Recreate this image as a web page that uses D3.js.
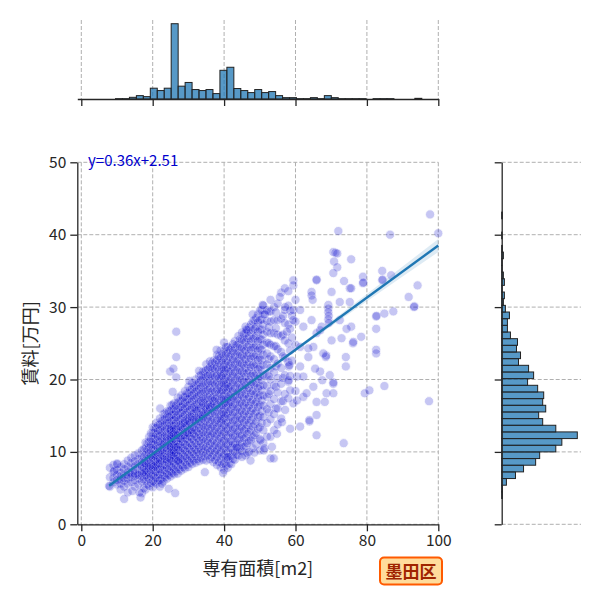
<!DOCTYPE html>
<html>
<head>
<meta charset="utf-8">
<script src="https://cdn.jsdelivr.net/npm/d3@7"></script>
<style>
body { margin: 0; background: #fff; }
text { font-family: "Noto Sans CJK JP", "Noto Sans", sans-serif; }
</style>
</head>
<body>
<svg id="chart" width="600" height="600"></svg>
<script>
// ticks
const areaTicks = [0, 20, 40, 60, 80, 100];
const rentTicks = [0, 10, 20, 30, 40, 50];

// marginal histogram of 専有面積 (bins start / width / counts)
const areaBinStart = 9.58;
const areaBinWidth = 1.95;
const areaCounts = [1, 1, 5, 10, 7, 32, 25, 32, 223, 38, 49, 28, 25, 28, 16, 85, 94, 31, 25, 19, 28,
    19, 22, 10, 4, 4, 1, 1, 4, 1, 10, 4, 1, 1, 1, 1, 0, 1, 1, 1, 0, 0, 0, 2];

// marginal histogram of 賃料
const rentBinStart = 3.56;
const rentBinWidth = 0.92;
const rentCounts = [2, 2, 14, 41, 65, 101, 113, 161, 179, 225, 161, 122, 110, 131, 122, 125, 107, 77, 95, 80,
    50, 56, 44, 47, 26, 17, 17, 23, 11, 5, 8, 1, 8, 5, 1, 1, 5, 2, 0, 1, 0, 0, 2];

// regression y=0.36x+2.51 and its confidence band half width
const slope = 0.36;
const intercept = 2.51;
const fitRange = [7.8, 100];
const ciX = [7.8, 20, 38, 60, 80, 100];
const ciHalf = [0.4, 0.18, 0.1, 0.22, 0.5, 0.9];

// scatter: area columns and the rents read at each column
const colArea = [8, 9, 10, 11, 12, 13, 14, 15, 16, 17, 17.5, 18, 18.5, 19, 19.5, 20, 20.5, 21, 21.5, 22, 22.5,
    23, 23.5, 24, 24.5, 25, 25.5, 26, 26.5, 27, 27.5, 28, 28.5, 29, 29.5, 30, 30.5, 31, 31.5, 32, 32.5,
    33, 33.5, 34, 34.5, 35, 35.5, 36, 36.5, 37, 37.5, 38, 38.5, 39, 39.5, 40, 40.5, 41, 41.5, 42, 42.5,
    43, 43.5, 44, 44.5, 45, 45.5, 46, 46.5, 47, 47.5, 48, 48.5, 49, 49.5, 50, 50.5, 51, 52, 52.5, 53,
    54, 54.5, 55, 56, 56.5, 57, 58, 58.5, 59, 60];
const colRent = [
    [5.2, 6.5, 7.8],
    [5.8, 7.2, 8.2, 6.4],
    [5.5, 6.8, 8.4, 7.5, 6.1],
    [4.8, 6.2, 7.1, 7.9, 6.6, 5.6],
    [5.2, 6.0, 6.9, 7.6, 8.3, 6.4],
    [4.4, 5.6, 6.3, 7.2, 7.9, 8.8, 6.8],
    [5.8, 6.5, 7.1, 7.8, 8.5, 9.2, 6.9],
    [5.2, 6.1, 6.7, 7.4, 8.0, 8.7, 9.5, 7.0],
    [5.5, 6.3, 7.0, 7.6, 8.3, 9.0, 9.8, 6.8],
    [4.3, 5.9, 6.6, 7.3, 7.9, 8.6, 9.3, 10.2, 7.0, 8.0],
    [5.0, 6.2, 7.1, 7.8, 8.5, 9.3, 10.4],
    [4.8, 6.0, 6.8, 7.5, 8.1, 8.8, 9.6, 10.5, 11.3, 7.2, 8.4],
    [5.5, 6.5, 7.3, 8.0, 8.7, 9.5, 10.3, 11.2],
    [5.3, 6.3, 7.0, 7.7, 8.4, 9.1, 9.8, 10.6, 11.4, 12.1, 8.0],
    [5.7, 6.6, 7.4, 8.1, 8.8, 9.5, 10.2, 11.0, 11.8, 12.6],
    [5.1, 6.0, 6.8, 7.5, 8.2, 8.9, 9.6, 10.3, 11.0, 11.8, 12.6, 13.4, 7.9, 9.2],
    [5.8, 6.6, 7.4, 8.1, 8.8, 9.5, 10.2, 11.0, 11.8, 12.6, 13.3],
    [5.6, 6.4, 7.2, 7.9, 8.6, 9.3, 10.0, 10.8, 11.6, 12.4, 13.3, 14.0, 8.2, 9.6],
    [6.0, 6.8, 7.6, 8.3, 9.0, 9.8, 10.5, 11.3, 12.1, 12.9, 13.7],
    [5.2, 6.1, 6.9, 7.6, 8.4, 9.1, 9.9, 10.6, 11.4, 12.2, 13.0, 13.8, 14.6, 8.8, 10.2],
    [6.3, 7.2, 8.0, 8.8, 9.6, 10.3, 11.1, 11.9, 12.7, 13.5, 14.3],
    [5.9, 6.7, 7.5, 8.2, 9.0, 9.8, 10.5, 11.3, 12.0, 12.8, 13.6, 14.4, 15.2, 9.4, 11.0],
    [6.5, 7.4, 8.2, 9.0, 9.8, 10.6, 11.4, 12.2, 13.0, 13.8, 14.6, 15.3],
    [6.3, 7.0, 7.8, 8.6, 9.3, 10.1, 10.9, 11.6, 12.4, 13.2, 14.0, 14.8, 15.6, 8.9, 10.5, 12.0],
    [6.8, 7.6, 8.4, 9.2, 10.0, 10.8, 11.6, 12.4, 13.2, 14.0, 14.8, 15.6],
    [6.6, 7.3, 8.0, 8.7, 9.4, 10.1, 10.8, 11.5, 12.2, 12.9, 13.6, 14.3, 15.0, 15.7, 16.4, 9.0, 10.4, 11.1, 11.8, 12.5, 13.2, 9.7, 10.7, 12.0, 13.0],
    [7.1, 7.9, 8.7, 9.5, 10.3, 11.1, 11.9, 12.7, 13.5, 14.3, 15.1, 15.9, 16.5, 10.0, 12.3],
    [6.9, 7.6, 8.4, 9.1, 9.9, 10.6, 11.4, 12.1, 12.9, 13.6, 14.4, 15.1, 15.9, 16.7, 10.2, 11.8, 13.2, 9.5, 11.0, 12.5],
    [7.3, 8.1, 9.0, 9.8, 10.6, 11.5, 12.3, 13.1, 14.0, 14.8, 15.6, 16.4],
    [7.0, 7.9, 8.7, 9.5, 10.3, 11.1, 11.9, 12.7, 13.5, 14.3, 15.1, 15.9, 16.8, 17.5, 10.7, 12.3],
    [7.6, 8.5, 9.3, 10.2, 11.0, 11.9, 12.7, 13.6, 14.4, 15.3, 16.1, 17.0],
    [7.4, 8.2, 9.0, 9.8, 10.6, 11.4, 12.2, 13.0, 13.8, 14.6, 15.4, 16.2, 17.0, 17.8, 11.8, 13.4],
    [7.9, 8.8, 9.6, 10.5, 11.4, 12.3, 13.1, 14.0, 14.9, 15.8, 16.6, 17.5],
    [7.7, 8.6, 9.4, 10.2, 11.0, 11.9, 12.7, 13.5, 14.3, 15.1, 16.0, 16.8, 17.6, 18.4, 12.3, 14.0],
    [8.2, 9.1, 10.0, 10.9, 11.8, 12.7, 13.6, 14.5, 15.4, 16.3, 17.2, 18.1],
    [7.9, 8.8, 9.6, 10.5, 11.3, 12.2, 13.0, 13.9, 14.7, 15.6, 16.4, 17.3, 18.1, 19.0, 12.6, 14.3],
    [8.5, 9.4, 10.3, 11.2, 12.1, 13.1, 14.0, 14.9, 15.8, 16.7, 17.7, 18.6],
    [8.3, 9.1, 10.0, 10.9, 11.8, 12.6, 13.5, 14.4, 15.2, 16.1, 17.0, 17.8, 18.7, 19.5, 13.0, 14.8],
    [8.8, 9.7, 10.6, 11.6, 12.5, 13.4, 14.4, 15.3, 16.2, 17.2, 18.1, 19.0],
    [8.5, 9.4, 10.3, 11.2, 12.1, 13.0, 13.9, 14.7, 15.6, 16.5, 17.4, 18.3, 19.2, 20.0, 14.2, 15.9],
    [9.0, 10.0, 10.9, 11.9, 12.8, 13.8, 14.7, 15.7, 16.6, 17.6, 18.5, 19.5],
    [8.7, 9.7, 10.6, 11.5, 12.4, 13.3, 14.2, 15.1, 16.0, 16.9, 17.8, 18.7, 19.6, 20.5, 21.2, 14.6],
    [9.2, 10.2, 11.2, 12.1, 13.1, 14.1, 15.1, 16.0, 17.0, 18.0, 18.9, 19.9, 20.6],
    [8.9, 9.9, 10.8, 11.8, 12.7, 13.6, 14.6, 15.5, 16.4, 17.4, 18.3, 19.2, 20.2, 21.1, 15.0, 16.8],
    [9.4, 10.4, 11.4, 12.4, 13.4, 14.3, 15.3, 16.3, 17.3, 18.3, 19.3, 20.3, 21.1],
    [8.8, 9.8, 10.7, 11.7, 12.7, 13.6, 14.6, 15.5, 16.5, 17.4, 18.4, 19.3, 20.3, 21.3, 22.1, 15.9],
    [9.5, 10.5, 11.5, 12.5, 13.5, 14.5, 15.5, 16.5, 17.5, 18.5, 19.5, 20.5, 21.4],
    [9.0, 10.0, 11.0, 12.0, 12.9, 13.9, 14.9, 15.9, 16.8, 17.8, 18.8, 19.8, 20.7, 21.7, 22.5, 16.2],
    [9.3, 10.3, 11.3, 12.4, 13.4, 14.4, 15.4, 16.4, 17.4, 18.4, 19.5, 20.5, 21.5, 22.2],
    [8.6, 9.6, 10.6, 11.6, 12.6, 13.6, 14.6, 15.6, 16.6, 17.6, 18.6, 19.6, 20.6, 21.6, 22.6, 17.0],
    [8.9, 10.0, 11.0, 12.1, 13.1, 14.1, 15.2, 16.2, 17.3, 18.3, 19.3, 20.4, 21.4, 22.4],
    [8.2, 9.3, 10.3, 11.3, 12.4, 13.4, 14.4, 15.5, 16.5, 17.5, 18.6, 19.6, 20.6, 21.7, 22.7, 23.4],
    [8.6, 9.7, 10.7, 11.8, 12.8, 13.9, 15.0, 16.0, 17.1, 18.1, 19.2, 20.2, 21.3, 22.3, 23.2],
    [7.9, 9.0, 10.0, 11.0, 12.0, 13.0, 14.0, 15.0, 16.0, 17.0, 18.0, 19.0, 20.0, 21.0, 22.0, 23.0, 24.0, 14.5, 16.5, 18.5, 20.5],
    [8.3, 9.4, 10.5, 11.5, 12.5, 13.5, 14.5, 15.5, 16.5, 17.5, 18.5, 19.5, 20.5, 21.5, 22.5, 23.5],
    [7.5, 8.5, 9.6, 10.6, 11.6, 12.7, 13.7, 14.7, 15.8, 16.8, 17.8, 18.9, 19.9, 20.9, 22.0, 23.0, 24.0, 25.1, 15.2, 17.3, 19.4, 21.4],
    [8.1, 9.1, 10.1, 11.1, 12.2, 13.2, 14.2, 15.3, 16.3, 17.3, 18.4, 19.4, 20.4, 21.5, 22.5, 23.5, 24.5],
    [7.8, 8.9, 9.9, 11.0, 12.0, 13.1, 14.1, 15.2, 16.2, 17.3, 18.3, 19.4, 20.4, 21.5, 22.5, 23.6, 24.5, 16.7, 18.8],
    [8.4, 9.4, 10.5, 11.5, 12.6, 13.6, 14.7, 15.7, 16.8, 17.8, 18.9, 19.9, 21.0, 22.0, 23.1, 24.1],
    [8.3, 9.4, 10.5, 11.5, 12.6, 13.7, 14.8, 15.9, 16.9, 18.0, 19.1, 20.2, 21.2, 22.3, 23.4, 24.4, 17.5],
    [9.0, 10.0, 11.1, 12.2, 13.2, 14.3, 15.4, 16.4, 17.5, 18.5, 19.6, 20.7, 21.7, 22.8, 23.9, 24.9],
    [8.9, 10.0, 11.1, 12.2, 13.3, 14.4, 15.5, 16.6, 17.7, 18.8, 19.9, 21.0, 22.1, 23.2, 24.3, 25.3],
    [9.6, 10.7, 11.8, 12.9, 14.0, 15.0, 16.1, 17.2, 18.3, 19.4, 20.5, 21.6, 22.6, 23.7, 24.8],
    [9.5, 10.6, 11.7, 12.8, 13.9, 15.0, 16.1, 17.2, 18.3, 19.4, 20.5, 21.6, 22.7, 23.8, 24.9, 26.0],
    [10.2, 11.3, 12.4, 13.5, 14.6, 15.7, 16.8, 17.9, 19.0, 20.1, 21.2, 22.3, 23.4, 24.5, 25.6],
    [10.1, 11.2, 12.3, 13.4, 14.5, 15.6, 16.7, 17.8, 18.9, 20.0, 21.1, 22.2, 23.3, 24.4, 25.5, 26.5],
    [10.7, 11.9, 13.0, 14.1, 15.2, 16.4, 17.5, 18.6, 19.7, 20.9, 22.0, 23.1, 24.2, 25.4, 26.3],
    [9.5, 10.8, 12.0, 13.2, 14.4, 15.6, 16.8, 18.0, 19.2, 20.4, 21.6, 22.8, 24.0, 25.2, 26.4, 27.3],
    [11.2, 12.5, 13.7, 14.9, 16.1, 17.3, 18.5, 19.7, 20.9, 22.1, 23.3, 24.5, 25.7, 26.8],
    [10.0, 11.5, 12.8, 14.0, 15.2, 16.4, 17.6, 18.8, 20.0, 21.2, 22.4, 23.6, 24.8, 26.0, 27.2],
    [11.6, 13.0, 14.4, 15.7, 16.9, 18.1, 19.3, 20.5, 21.7, 22.9, 24.1, 25.3, 26.5, 27.6],
    [10.5, 12.0, 13.5, 14.8, 16.0, 17.2, 18.4, 19.6, 20.8, 22.0, 23.2, 24.4, 25.6, 26.8, 28.0],
    [12.3, 13.8, 15.3, 16.6, 17.9, 19.2, 20.5, 21.8, 23.1, 24.4, 25.7, 27.0, 28.2],
    [11.0, 12.6, 14.2, 15.6, 16.9, 18.2, 19.5, 20.8, 22.1, 23.4, 24.7, 26.0, 27.3, 28.5],
    [13.2, 14.8, 16.2, 17.5, 18.8, 20.1, 21.4, 22.7, 24.0, 25.3, 26.6, 27.9, 29.0],
    [10.2, 11.8, 13.4, 15.0, 16.5, 17.8, 19.1, 20.4, 21.7, 23.0, 24.3, 25.6, 26.9, 28.2, 29.5],
    [14.0, 15.6, 17.1, 18.5, 19.9, 21.3, 22.7, 24.1, 25.5, 26.9, 28.3, 29.6],
    [11.2, 13.0, 14.8, 16.4, 17.8, 19.2, 20.6, 22.0, 23.4, 24.8, 26.2, 27.6, 29.0, 30.2],
    [12.1, 14.0, 15.9, 17.6, 19.1, 20.6, 22.1, 23.6, 25.1, 26.6, 28.1, 29.6],
    [15.5, 18.0, 20.5, 22.8, 25.0, 27.2, 29.4],
    [9.1, 12.1, 14.5, 16.6, 18.4, 20.0, 21.6, 23.2, 24.8, 26.4, 28.0, 29.4],
    [13.0, 15.2, 17.3, 19.2, 21.0, 22.8, 24.6, 26.4, 28.2, 30.0],
    [16.0, 19.0, 21.8, 24.6, 27.1, 29.3],
    [13.8, 16.0, 18.2, 20.2, 22.2, 24.2, 26.2, 28.2, 30.5],
    [14.6, 17.0, 19.4, 21.6, 23.8, 26.0, 28.4],
    [17.0, 20.2, 23.2, 26.2, 28.8],
    [18.0, 20.6, 23.0, 25.4, 27.8, 29.6],
    [17.4, 22.4, 25.0, 27.6, 30.2],
    [20.5, 24.0, 27.0, 29.5],
    [22.6, 25.8, 28.8],
    [18.4, 24.8, 28.0, 31.0]
];

// isolated points away from the main cloud
const extraPoints = [
    [7.8, 5.3], [9.2, 7.4], [10.1, 8.3], [12, 3.5], [14.3, 4.6], [16.6, 3.7], [16.3, 4.4], [22.6, 5.6],
    [24.5, 4.9], [26.3, 4.3], [27.2, 8.8], [34.6, 7.2], [39.7, 7.1], [22.1, 16], [25.6, 18.3],
    [26.6, 26.6], [26.6, 23.1], [24.9, 21.1], [25.8, 21.5], [26.6, 20.3], [30.3, 19.8], [37.9, 24.1],
    [46.2, 26.9], [48, 29], [50.8, 30.3], [51.4, 29], [41, 9.3], [43.5, 10.6], [45, 9.3], [46.5, 9.8],
    [47.4, 8.8], [48.5, 9.9], [50.2, 11.6], [51.1, 10.2], [51.3, 10.5], [53.4, 10.7], [53.9, 9.1],
    [54.8, 12.5], [56.2, 14.1], [58.5, 13.2], [57.1, 15.8], [59.4, 16.7], [60.4, 17.1], [61.3, 13.5],
    [63.9, 14.2], [63.9, 14.4], [65.9, 15.1], [65.9, 12.3], [62.2, 17.6], [63.1, 18.1], [65.9, 16.9],
    [68.2, 16.9], [58.5, 18.5], [58, 19.7], [58.1, 19.9], [65, 19], [68.7, 18.1], [70.6, 18.1],
    [70.6, 19.4], [70.6, 19.6], [69.6, 20.6], [66.9, 21.1], [67.5, 19.9], [60.4, 20.4], [62.2, 20.4],
    [61.3, 21.8], [58.1, 21.8], [58.3, 22], [65.5, 21.5], [63.6, 23.1], [68.5, 23.1], [68.6, 23.3],
    [67.8, 23.6], [65, 24.5], [61.3, 24.5], [63.6, 24.3], [70.1, 25.4], [72.9, 25.7], [57.6, 26.6],
    [65.9, 26.4], [66.9, 26.8], [67.3, 27.3], [62.2, 27.3], [59.4, 28.2], [64.5, 28.2], [72.4, 28.2],
    [75.6, 27.3], [59.4, 29.6], [61.3, 29.6], [57.1, 30], [73.5, 11.2], [74.3, 27], [78.4, 25.9],
    [76.1, 25], [76.2, 25.2], [74.1, 23.1], [74.1, 21.8], [82.6, 24.1], [82.6, 23.6], [79.4, 18.1],
    [80.7, 18.5], [84.9, 19.1], [97.4, 17], [72, 40.5], [86.5, 40], [100, 40.2], [97.7, 42.8],
    [70.6, 37.6], [71.2, 37.5], [71.7, 37.4], [75.6, 36.6], [70.8, 36.3], [71.7, 35.5], [70.6, 34.7],
    [78.9, 34.2], [78.9, 33.3], [79, 33.4], [84.3, 35], [84.3, 33.7], [84.4, 33.8], [86.8, 34.4],
    [65.9, 33.7], [65.9, 33.8], [73.6, 33.6], [75.2, 32.6], [75.6, 32.6], [94.2, 33], [91.7, 31.4],
    [64.5, 32.1], [64.5, 31.6], [64.8, 31], [59.4, 33.7], [59.4, 33], [56, 32], [57, 32.6], [58, 32.2],
    [69.2, 30.3], [69.2, 29.8], [69.2, 29.3], [69.3, 28.8], [69.2, 28.3], [69.3, 27.8], [70.1, 32.1],
    [72.4, 30.7], [75.2, 30.7], [82.6, 28.7], [82.7, 28.8], [82.6, 27], [84.9, 29.1], [87.4, 29.4],
    [93.2, 30], [93.3, 30.1], [55.6, 31.4], [53, 31]
];

const points = colArea.flatMap((x, i) => colRent[i].map(y => [x, y])).concat(extraPoints);

const svg = d3.select("#chart");
const ink = "#262626";
const gridColor = "#b0b0b0";

// main axes box
const main = {left: 77.3, right: 438.3, top: 162.3, bottom: 524.3};
const escalaX = d3.scaleLinear().domain([-1.12, 100]).range([main.left, main.right]);
const escalaY = d3.scaleLinear().domain([0, 50]).range([main.bottom, main.top]);

// marginal axes
const margTop = {top: 20, bottom: 99};
const margRight = {left: 501.7, right: 581};
const escalaHistX = d3.scaleLinear().domain([0, 234]).range([margTop.bottom, margTop.top]);
const escalaHistY = d3.scaleLinear().domain([0, 236]).range([margRight.left, margRight.right]);

function gridLine(g) {
    g.attr("stroke", gridColor).attr("stroke-width", 1).attr("stroke-dasharray", "4,2");
}

// grid: main
svg.append("g").selectAll("line").data(areaTicks).join("line")
    .attr("x1", d => escalaX(d)).attr("x2", d => escalaX(d))
    .attr("y1", main.top).attr("y2", main.bottom)
    .call(gridLine);
svg.append("g").selectAll("line").data(rentTicks).join("line")
    .attr("x1", main.left).attr("x2", main.right)
    .attr("y1", d => escalaY(d)).attr("y2", d => escalaY(d))
    .call(gridLine);
// grid: marginals
svg.append("g").selectAll("line").data(areaTicks).join("line")
    .attr("x1", d => escalaX(d)).attr("x2", d => escalaX(d))
    .attr("y1", margTop.top).attr("y2", margTop.bottom)
    .call(gridLine);
svg.append("g").selectAll("line").data(rentTicks).join("line")
    .attr("x1", margRight.left).attr("x2", margRight.right)
    .attr("y1", d => escalaY(d)).attr("y2", d => escalaY(d))
    .call(gridLine);

// scatter
svg.append("g").selectAll("circle").data(points).join("circle")
    .attr("cx", d => escalaX(d[0]))
    .attr("cy", d => escalaY(d[1]))
    .attr("r", 4.6)
    .attr("fill", "#0000cd")
    .attr("stroke", "#fff")
    .attr("stroke-width", 0.8)
    .attr("opacity", 0.22);

// confidence band + regression line
const bandX = d3.scaleLinear().domain(ciX).range(ciHalf);
const band = d3.area()
    .x(d => escalaX(d))
    .y0(d => escalaY(slope * d + intercept - bandX(d)))
    .y1(d => escalaY(slope * d + intercept + bandX(d)));
svg.append("path")
    .datum(ciX)
    .attr("d", band.curve(d3.curveMonotoneX))
    .attr("fill", "#1f77b4")
    .attr("fill-opacity", 0.15);
svg.append("line")
    .attr("x1", escalaX(fitRange[0])).attr("y1", escalaY(slope * fitRange[0] + intercept))
    .attr("x2", escalaX(fitRange[1])).attr("y2", escalaY(slope * fitRange[1] + intercept))
    .attr("stroke", "#1f77b4")
    .attr("stroke-width", 2.4);

// top histogram
svg.append("g").selectAll("rect").data(areaCounts).join("rect")
    .attr("x", (d, i) => escalaX(areaBinStart + i * areaBinWidth))
    .attr("width", (d, i) => escalaX(areaBinStart + (i + 1) * areaBinWidth) - escalaX(areaBinStart + i * areaBinWidth))
    .attr("y", d => escalaHistX(d))
    .attr("height", d => escalaHistX(0) - escalaHistX(d))
    .attr("fill", "#1f77b4").attr("fill-opacity", 0.75)
    .attr("stroke", "#222").attr("stroke-width", 1);

// right histogram
svg.append("g").selectAll("rect").data(rentCounts).join("rect")
    .attr("y", (d, i) => escalaY(rentBinStart + (i + 1) * rentBinWidth))
    .attr("height", (d, i) => escalaY(rentBinStart + i * rentBinWidth) - escalaY(rentBinStart + (i + 1) * rentBinWidth))
    .attr("x", escalaHistY(0))
    .attr("width", d => escalaHistY(d) - escalaHistY(0))
    .attr("fill", "#1f77b4").attr("fill-opacity", 0.75)
    .attr("stroke", "#222").attr("stroke-width", 1);

function styleAxis(g) {
    g.select(".domain").attr("stroke", ink).attr("stroke-width", 1.3);
    g.selectAll(".tick line").attr("stroke", ink).attr("stroke-width", 1.3);
    g.selectAll(".tick text").attr("fill", ink).attr("font-size", 15.5)
        .attr("font-family", "'Noto Sans CJK JP', sans-serif");
}

// axes
svg.append("g")
    .attr("transform", `translate(0, ${main.bottom})`)
    .call(d3.axisBottom(escalaX).tickValues(areaTicks).tickSize(7).tickSizeOuter(0).tickPadding(4))
    .call(styleAxis);
svg.append("g")
    .attr("transform", `translate(${main.left}, 0)`)
    .call(d3.axisLeft(escalaY).tickValues(rentTicks).tickSize(7).tickSizeOuter(0).tickPadding(4))
    .call(styleAxis);
svg.append("g")
    .attr("transform", `translate(0, ${margTop.bottom})`)
    .call(d3.axisBottom(escalaX).tickValues(areaTicks).tickSize(7).tickSizeOuter(0).tickFormat(""))
    .call(styleAxis);
svg.append("g")
    .attr("transform", `translate(${margRight.left}, 0)`)
    .call(d3.axisLeft(escalaY).tickValues(rentTicks).tickSize(7).tickSizeOuter(0).tickFormat(""))
    .call(styleAxis);

// labels
svg.append("text")
    .text("専有面積[m2]")
    .attr("x", (main.left + main.right) / 2)
    .attr("y", 575)
    .attr("text-anchor", "middle")
    .attr("font-size", 18)
    .attr("fill", ink);
svg.append("text")
    .text("賃料[万円]")
    .attr("transform", `translate(37, ${(main.top + main.bottom) / 2}) rotate(-90)`)
    .attr("text-anchor", "middle")
    .attr("font-size", 18)
    .attr("fill", ink);
svg.append("text")
    .text("y=0.36x+2.51")
    .attr("x", 88)
    .attr("y", 166)
    .attr("font-size", 15)
    .attr("fill", "mediumblue");

// ward badge
svg.append("rect")
    .attr("x", 380).attr("y", 557.5)
    .attr("width", 62).attr("height", 27)
    .attr("rx", 4)
    .attr("fill", "#ffdc9c")
    .attr("stroke", "#ff5a00")
    .attr("stroke-width", 2);
svg.append("text")
    .text("墨田区")
    .attr("x", 411)
    .attr("y", 577.5)
    .attr("text-anchor", "middle")
    .attr("font-size", 17)
    .attr("font-weight", "bold")
    .attr("fill", "#a02400");
</script>
</body>
</html>
